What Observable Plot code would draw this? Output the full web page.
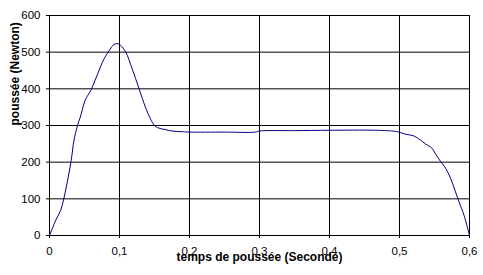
<!DOCTYPE html>
<html>
<head>
<meta charset="utf-8">
<script src="https://cdn.jsdelivr.net/npm/d3@7"></script>
<script src="https://cdn.jsdelivr.net/npm/@observablehq/plot@0.6"></script>
<style>
  html, body { margin: 0; padding: 0; background: #fff; }
  #chart svg { display: block; }
</style>
</head>
<body>
<div id="chart"></div>
<script>
// temps de poussée (s)
const temps = [0, 0.009, 0.016, 0.020, 0.025, 0.031, 0.035, 0.040, 0.044, 0.051, 0.059, 0.068, 0.078, 0.087, 0.092, 0.098, 0.102, 0.109, 0.118, 0.128, 0.137, 0.144, 0.151, 0.158, 0.165, 0.175, 0.190, 0.200, 0.250, 0.294, 0.300, 0.350, 0.400, 0.466, 0.494, 0.501, 0.509, 0.520, 0.530, 0.537, 0.547, 0.551, 0.559, 0.566, 0.573, 0.580, 0.585, 0.592, 0.600];
// poussée (N)
const poussee = [0, 42, 69, 97, 142, 205, 260, 300, 323, 369, 396, 437, 482, 509, 521, 523, 518, 500, 455, 400, 350, 319, 298, 292, 289, 285, 283, 282, 282, 282, 285, 286, 287, 287, 284, 281, 276, 272, 260, 250, 237, 224, 201, 183, 156, 119, 92, 56, 0];
const xTicks = [0, 0.1, 0.2, 0.3, 0.4, 0.5, 0.6];
const xTickLabels = ["0", "0,1", "0,2", "0,3", "0,4", "0,5", "0,6"];
const yTicks = [0, 100, 200, 300, 400, 500, 600];
const xTitle = "temps de poussée (Seconde)";
const yTitle = "poussée (Newton)";

const data = temps.map((t, i) => ({t, f: poussee[i]}));

const chart = Plot.plot({
  width: 483,
  height: 275,
  marginLeft: 49,
  marginRight: 14,
  marginTop: 15,
  marginBottom: 40,
  style: {fontFamily: "'Liberation Sans', Arial, sans-serif", fontSize: "11.5px", color: "#000", background: "#fff"},
  x: {domain: [0, 0.6]},
  y: {domain: [0, 600]},
  marks: [
    Plot.ruleX(xTicks, {stroke: "#000", strokeWidth: 1}),
    Plot.ruleY(yTicks, {stroke: "#000", strokeWidth: 1}),
    Plot.frame({stroke: "#000", strokeWidth: 1}),
    Plot.axisX({ticks: xTicks, tickFormat: (d, i) => xTickLabels[i], tickSize: 3, tickPadding: 8, label: null, stroke: "#000"}),
    Plot.axisY({ticks: yTicks, tickFormat: d => String(d), tickSize: 3, tickPadding: 6, label: null, stroke: "#000"}),
    Plot.line(data, {x: "t", y: "f", stroke: "#000080", strokeWidth: 1, curve: "catmull-rom"}),
    Plot.text([xTitle], {frameAnchor: "bottom", dy: 25, text: d => d, fontWeight: "bold", fontSize: 12, fill: "#000"}),
    Plot.text([yTitle], {frameAnchor: "left", dx: -34, rotate: -90, text: d => d, fontWeight: "bold", fontSize: 12, fill: "#000"})
  ]
});
document.getElementById("chart").appendChild(chart);
</script>
</body>
</html>
